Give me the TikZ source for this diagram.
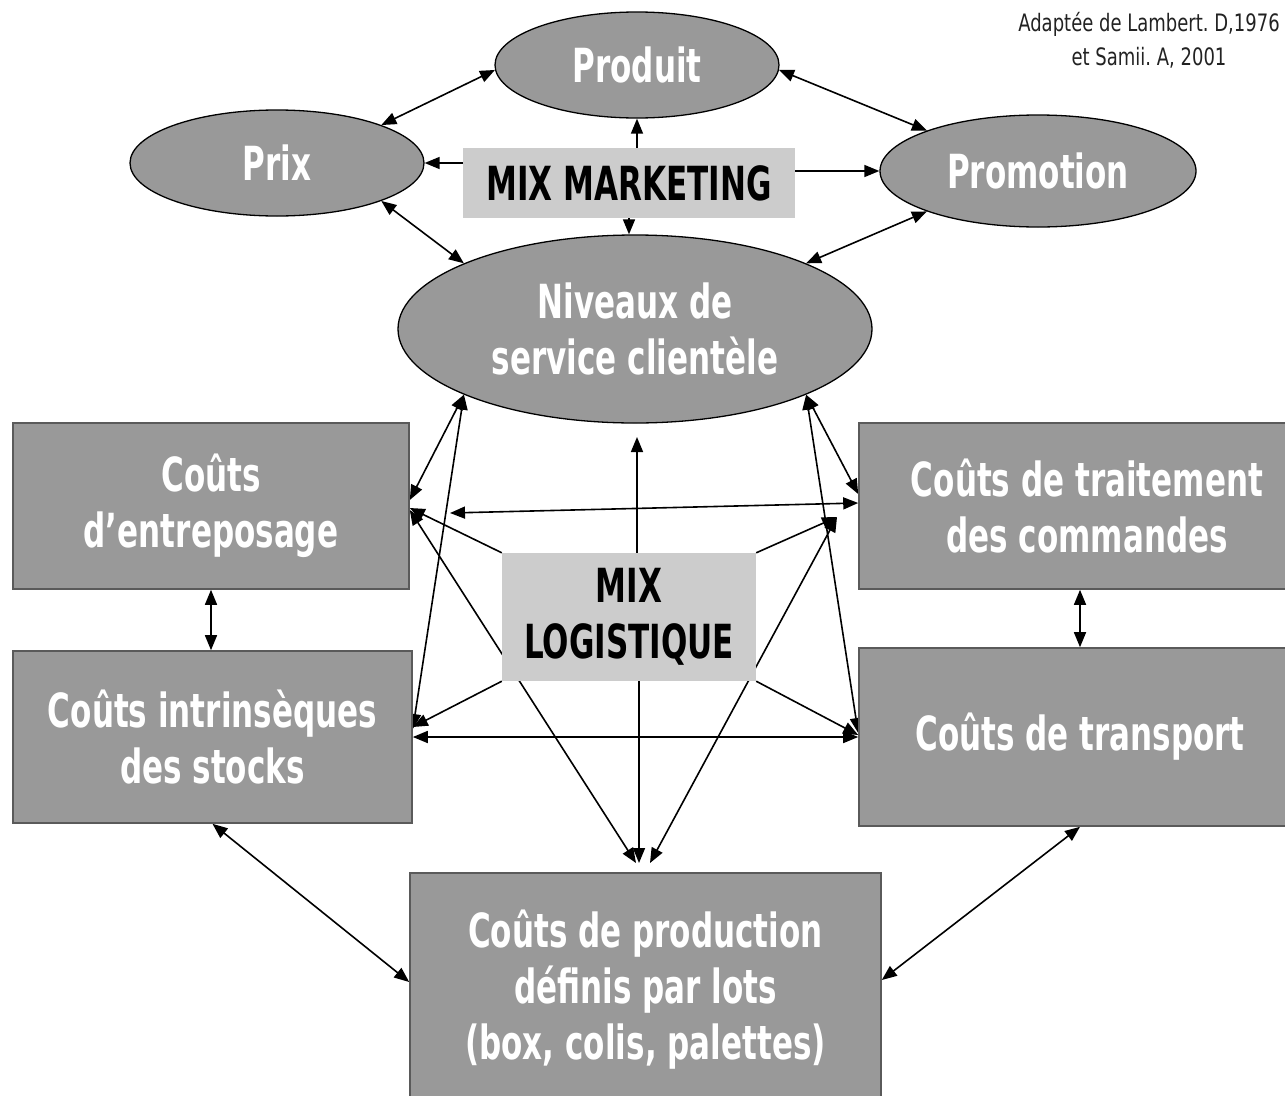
\documentclass[tikz,border=0pt]{standalone}
\usepackage{fontspec}
\setmainfont{DejaVu Sans}[FakeStretch=0.66]
\newfontfamily\notefont{DejaVu Sans}[FakeStretch=0.75]
\usetikzlibrary{shapes.geometric,arrows.meta,backgrounds}
\definecolor{boxfill}{HTML}{999999}
\definecolor{boxline}{HTML}{5A5A5A}
\definecolor{mixfill}{HTML}{CCCCCC}
\definecolor{notecol}{HTML}{222222}
\frenchspacing

\begin{document}
\begin{tikzpicture}[x=1pt,y=-1pt,
  lab/.style={text=white,font=\fontsize{47}{56}\selectfont\bfseries,align=center},
  oval/.style={ellipse,draw=black,line width=1.3pt,fill=boxfill,inner sep=0pt,lab},
  cost/.style={rectangle,draw=boxline,line width=1.6pt,fill=boxfill,inner sep=0pt,lab},
  mix/.style={rectangle,fill=mixfill,inner sep=0pt,lab,text=black},
  tip/.style={Triangle[length=15pt,width=12pt]},
  link/.style={line width=1.6pt,{Triangle[length=15pt,width=12pt]}-{Triangle[length=15pt,width=12pt]}},
  one/.style={line width=1.6pt,-{Triangle[length=15pt,width=12pt]}}
]
\useasboundingbox (0,0) rectangle (1285,1095);

% source note
\node[align=center,text=notecol,font=\notefont\fontsize{24}{34}\selectfont] (note) at (1149,40)
  {Adaptée de Lambert. D,1976\\et Samii. A, 2001};

% marketing mix
\node[oval,minimum width=284pt,minimum height=106pt] (produit) at (637,65) {Produit};
\node[oval,minimum width=294pt,minimum height=106pt] (prix) at (277,163) {Prix};
\node[oval,minimum width=316pt,minimum height=112pt] (promo) at (1038,171) {Promotion};
\node[oval,minimum width=474pt,minimum height=188pt] (niv) at (635,329) {Niveaux de\\service clientèle};
\node[mix,minimum width=332pt,minimum height=70pt] (mm) at (629,183) {MIX MARKETING};

% logistics mix
\node[cost,minimum width=396pt,minimum height=166pt] (ent) at (211,506) {Coûts\\d’entreposage};
\node[cost,minimum width=456pt,minimum height=166pt] (trt) at (1087,506) {Coûts de traitement\\des commandes};
\node[cost,minimum width=399pt,minimum height=172pt] (int) at (212.5,737) {Coûts intrinsèques\\des stocks};
\node[cost,minimum width=442pt,minimum height=178pt] (tra) at (1080,737) {Coûts de transport};
\node[cost,minimum width=471pt,minimum height=234pt] (prod) at (645.5,990) {Coûts de production\\définis par lots\\(box, colis, palettes)};
\node[mix,minimum width=254pt,minimum height=128pt] (ml) at (629,617) {MIX\\LOGISTIQUE};

% free ends of some connectors
\coordinate (tipN) at (637,437);
\coordinate (tq) at (837,517);
\coordinate (hl) at (450,513);
\coordinate (pa) at (636,863);
\coordinate (pv) at (639,863);
\coordinate (pb) at (650,863);

\begin{scope}[on background layer]
  % marketing links
  \draw[link] (prix.20) -- (produit.182);
  \draw[link] (produit.-2) -- (promo.160);
  \draw[one] (mm.north -| produit.south) -- (produit.south);
  \draw[one] (mm.west |- prix.east) -- (prix.east);
  \draw[one] (mm.east |- promo.west) -- (promo.west);
  \draw[one] (mm.south) -- (mm.south |- niv.north);
  \draw[link] (prix.-20) -- (niv.159);
  \draw[link] (promo.200) -- (niv.21);

  % service level to cost boxes
  \draw[link] (niv.201) -- ([yshift=6pt]ent.east);
  \draw[link] (niv.201) -- ([yshift=8pt]int.east);
  \draw[link] (niv.-21) -- ([yshift=12pt]trt.west);
  \draw[link] (niv.-21) -- ([yshift=4pt]tra.west);
  \draw[link] (hl) -- ([yshift=3pt]trt.west);
  \draw[link] (int.east) -- (tra.west);

  % logistics mix outputs
  \draw[one] (ml.north -| tipN) -- (tipN);
  \draw[one] (ml.north west) -- ([yshift=-2pt]ent.east);
  \draw[one] (ml.north east) -- (tq);
  \draw[one] (ml.south west) -- ([yshift=10pt]int.east);
  \draw[one] (ml.south east) -- ([yshift=2pt]tra.west);
  \draw[one] (ml.south -| pv) -- (pv);

  % links to production
  \draw[link] ([yshift=-4pt]ent.east) -- (pa);
  \draw[link] (tq) -- (pb);
  \draw[link] (int.south) -- ([yshift=8pt]prod.west);
  \draw[link] (tra.south) -- ([yshift=10pt]prod.east);

  % neighbouring cost boxes
  \draw[link] (ent.south) -- (ent.south |- int.north);
  \draw[link] (tra.north |- trt.south) -- (tra.north);
\end{scope}
\end{tikzpicture}
\end{document}
